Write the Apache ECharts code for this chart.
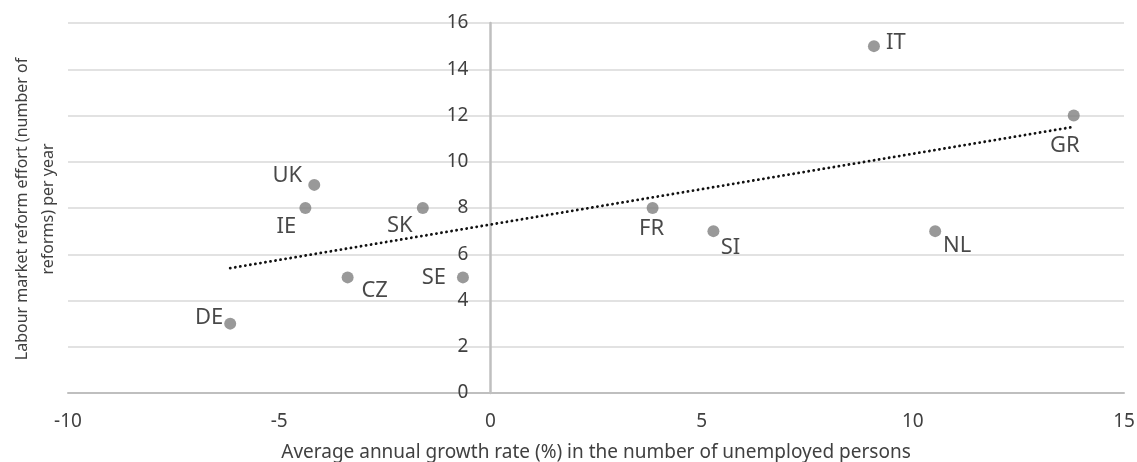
<!DOCTYPE html>
<html>
<head>
<meta charset="utf-8">
<script src="https://cdn.jsdelivr.net/npm/echarts@6/dist/echarts.min.js"></script>
<style>
html,body{margin:0;padding:0;background:#fff;}
#chart{width:1137px;height:462px;}
</style>
</head>
<body>
<div id="chart"></div>
<script>
// ---- data ----
const countries = ['DE','UK','IE','SK','CZ','SE','IT','GR','FR','SI','NL'];
const growthRate = [-6.16,-4.17,-4.38,-1.6,-3.38,-0.65,9.08,13.81,3.84,5.28,10.53];
const reformEffort = [3,9,8,8,5,5,15,12,8,7,7];
const trendX = [-6.16, 13.81];
const trendY = [5.40, 11.51];
const xTicks = {min:-10, max:15, interval:5};
const yTicks = {min:0, max:16, interval:2};
const xTitle = 'Average annual growth rate (%) in the number of unemployed persons';
const yTitle = 'Labour market reform effort (number of\nreforms) per year';

// ---- label placement (styling, not data) ----
const labelOffset = {
  DE:[-21,-6], UK:[-27,-9], IE:[-19,19], SK:[-23,18], CZ:[27,13], SE:[-29,0],
  IT:[22,-3], GR:[-9,30], FR:[-1,21], SI:[17,17], NL:[22,15]
};

const FONT = '"Noto Sans", "Open Sans", sans-serif';
const GRID = {left:68, right:13, top:23, bottom:69};
const W = 1137;
const gridWidth = W - GRID.left - GRID.right;
// place the y axis where x = 0 (line and labels together)
const yAxisOffset = -((0 - xTicks.min) / (xTicks.max - xTicks.min)) * gridWidth;

const chart = echarts.init(document.getElementById('chart'), null, {renderer:'canvas'});

const points = countries.map((c,i)=>({
  name:c,
  value:[growthRate[i], reformEffort[i]],
  label:{offset: labelOffset[c]}
}));

chart.setOption({
  animation:false,
  backgroundColor:'#ffffff',
  grid:Object.assign({containLabel:false, outerBoundsMode:'none'}, GRID),
  xAxis:{
    type:'value', min:xTicks.min, max:xTicks.max, interval:xTicks.interval,
    name:xTitle, nameLocation:'middle', nameGap:50,
    nameTextStyle:{fontFamily:FONT, fontSize:19, color:'#404040'},
    axisLine:{show:true, onZero:false, lineStyle:{color:'#bfbfbf', width:2}},
    axisTick:{show:false},
    splitLine:{show:false},
    axisLabel:{fontFamily:FONT, fontSize:19, color:'#404040', margin:19}
  },
  yAxis:{
    type:'value', min:yTicks.min, max:yTicks.max, interval:yTicks.interval,
    position:'left',
    offset:yAxisOffset,
    axisLine:{show:true, onZero:false, lineStyle:{color:'#bfbfbf', width:2.5}},
    axisTick:{show:false},
    splitLine:{show:true, lineStyle:{color:'#d9d9d9', width:1.5}},
    axisLabel:{fontFamily:FONT, fontSize:19, color:'#404040', margin:22}
  },
  graphic:[{
    type:'text',
    x:35, y:209,
    rotation:Math.PI/2,
    style:{
      text:yTitle,
      fontFamily:FONT, fontSize:16, fill:'#404040',
      align:'center', verticalAlign:'middle', lineHeight:26
    }
  }],
  series:[
    {
      type:'line',
      data:trendX.map((x,i)=>[x, trendY[i]]),
      showSymbol:false,
      symbol:'none',
      silent:true,
      z:3,
      lineStyle:{color:'#111111', width:2.8, type:[0.1,5], cap:'round'}
    },
    {
      type:'scatter',
      data:points,
      symbol:'circle',
      symbolSize:12,
      z:4,
      itemStyle:{color:'#808080'},
      label:{
        show:true,
        position:'inside',
        formatter:p=>p.name,
        fontFamily:FONT, fontSize:22, color:'#1a1a1a',
        align:'center', verticalAlign:'middle'
      }
    }
  ]
});
</script>
</body>
</html>
